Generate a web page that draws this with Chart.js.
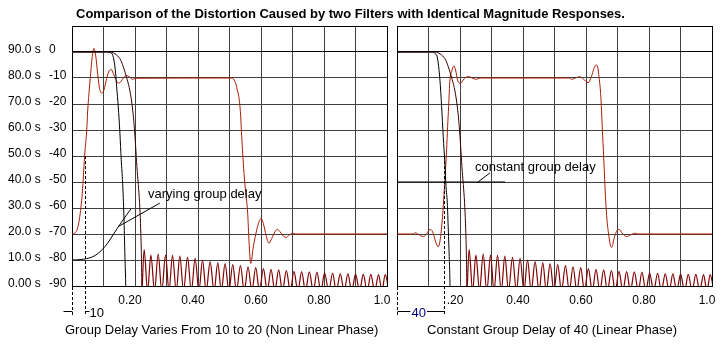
<!DOCTYPE html>
<html>
<head>
<meta charset="utf-8">
<title>Group delay distortion</title>
<script src="https://cdn.jsdelivr.net/npm/chart.js@4.4.1/dist/chart.umd.min.js"></script>
<style>
  body { margin: 0; background: #fff; }
  #wrap { position: relative; width: 727px; height: 345px; background: #fff; font-family: "Liberation Sans", Arial, sans-serif; color: #000; }
  #wrap canvas { position: absolute; top: 0; }
  #leftChart { left: 0; }
  #rightChart { left: 393px; }
  .txt { position: absolute; white-space: nowrap; font-size: 13px; line-height: 15px; }
  #title { left: 76px; top: 6px; font-weight: bold; }
  #capLeft { left: 65px; top: 322px; }
  #capRight { left: 427px; top: 322px; }
</style>
</head>
<body>
<div id="wrap">
  <canvas id="leftChart" width="393" height="345"></canvas>
  <canvas id="rightChart" width="325" height="345"></canvas>
  <div class="txt" id="title">Comparison of the Distortion Caused by two Filters with Identical Magnitude Responses.</div>
  <div class="txt" id="capLeft">Group Delay Varies From 10 to 20 (Non Linear Phase)</div>
  <div class="txt" id="capRight">Constant Group Delay of 40 (Linear Phase)</div>
</div>
<script>
// tick labels
const xTickLabels = ["", "", "0.20", "", "0.40", "", "0.60", "", "0.80", "", "1.0"];
const xTickLabelsRight = ["", "", ".20", "", "0.40", "", "0.60", "", "0.80", "", "1.0"];
const delayTickLabels = ["0.00 s", "10.0 s", "20.0 s", "30.0 s", "40.0 s", "50.0 s", "60.0 s", "70.0 s", "80.0 s", "90.0 s", ""];

// magnitude response (dB), same for both filters: passband and transition band
const magX = [0, 0.12, 0.142, 0.155, 0.165, 0.175, 0.184, 0.1924, 0.1975, 0.2019, 0.206, 0.2105, 0.2145, 0.2175, 0.2197, 0.221, 0.2225];
const magDb = [0, 0, -1.2, -3.2, -6.5, -10.5, -15, -22, -28.5, -36, -44, -51, -58, -66, -75, -83, -100];

// stopband sidelobes: nulls dip just under the -90 dB floor
const lobeNullX = [0.2225, 0.240, 0.262, 0.285, 0.308, 0.331, 0.354, 0.379, 0.403, 0.426, 0.451, 0.474, 0.498, 0.522, 0.547, 0.571, 0.595,
  0.620, 0.644, 0.668, 0.693, 0.717, 0.741, 0.766, 0.790, 0.815, 0.839, 0.864, 0.888, 0.913, 0.937, 0.961, 0.984, 1.006];
const lobePeakX = [0.229, 0.2504, 0.2736, 0.297, 0.319, 0.3423, 0.3667, 0.3908, 0.4143, 0.4384, 0.4628, 0.486, 0.5103, 0.5347, 0.5588, 0.5832,
  0.6075, 0.6318, 0.6561, 0.6805, 0.7046, 0.729, 0.7534, 0.7775, 0.8019, 0.8273, 0.8517, 0.8758, 0.9002, 0.9246, 0.9487, 0.9731, 0.9943];
const lobePeakDb = [-76, -78.1, -77.7, -78.1, -78.2, -78.5, -79, -79.4, -80, -80.6, -81, -81.4, -81.8, -82.2, -82.6, -82.9,
  -83.3, -83.6, -83.8, -84.1, -84.4, -84.5, -84.6, -84.7, -85, -85.1, -85.3, -85.3, -85.4, -85.5, -85.5, -85.6, -85.6];
const lobeNullDb = -92;

// black response curves
const blackLeftX = [0, 0.11, 0.1258, 0.1331, 0.1385, 0.1417, 0.1468, 0.1521, 0.1563, 0.1607, 0.1648, 0.168, 0.1702, 0.1725];
const blackLeftDb = [0, 0, -0.5, -3.1, -8.2, -13.3, -21, -31.2, -41.5, -50.4, -63.1, -78.5, -87.4, -100];
const blackRightX = [0, 0.105, 0.1258, 0.1309, 0.1363, 0.1417, 0.1468, 0.1521, 0.1556, 0.1597, 0.1629, 0.1658, 0.168, 0.1695];
const blackRightDb = [0, 0, -1.2, -4.3, -10.8, -21, -32.6, -42.8, -51.8, -58, -68.5, -78.7, -87.7, -100];

// pulse responses (dB scale), non linear phase
const stepLeftX = [0, 0.0095, 0.0168, 0.0231, 0.0285, 0.0326, 0.0412, 0.0466, 0.0498, 0.0539, 0.0593, 0.0643, 0.0697, 0.0751, 0.0802,
  0.0865, 0.0941, 0.1014, 0.11, 0.118, 0.1246, 0.131, 0.1385, 0.1467, 0.1553, 0.1648, 0.1734, 0.1838, 0.1924, 0.2029,
  0.508, 0.5175, 0.5248, 0.5311, 0.5356, 0.5387, 0.5419, 0.546, 0.5505, 0.5577, 0.562, 0.5673, 0.5757, 0.5863, 0.5937, 0.6,
  0.6073, 0.6159, 0.6254, 0.634, 0.6444, 0.6518, 0.6603, 0.6709, 0.6794, 0.69, 0.7006, 0.708, 1.0];
const stepLeftDb = [-70, -69.6, -68.1, -64.6, -59.5, -54.4, -38.1, -30.4, -22.7, -15.9, -8.2, -1.8, 1.4, -1.2, -6.9,
  -13.3, -15.9, -14.6, -10.1, -7.2, -6.7, -8.2, -10.5, -12, -11.4, -9.7, -9.1, -9.7, -10.5, -10.1,
  -10, -11.4, -14.6, -18.5, -24.9, -32.6, -39, -46.7, -53, -62, -73, -81.3, -74.9, -68.5, -65.3, -64,
  -65.9, -70.4, -73.6, -71.7, -69.1, -68.2, -69.1, -70.8, -71.3, -70.4, -69.7, -70, -70];

// pulse responses (dB scale), linear phase
const stepRightX = [0, 0.054, 0.057, 0.0676, 0.0834, 0.0941, 0.1046, 0.113, 0.1226, 0.1309, 0.1385, 0.1436, 0.1468, 0.15, 0.1521,
  0.1575, 0.1607, 0.1639, 0.168, 0.1733, 0.1807, 0.186, 0.1923, 0.2019, 0.2101, 0.2187, 0.2282, 0.24, 0.2526, 0.2609, 0.27,
  0.5483, 0.5537, 0.5646, 0.58, 0.5927, 0.6063, 0.6171, 0.6254, 0.6329, 0.638, 0.6412, 0.6456, 0.6488, 0.652, 0.6561, 0.6593,
  0.6624, 0.6666, 0.6729, 0.6773, 0.6825, 0.6878, 0.6964, 0.7046, 0.7154, 0.728, 0.7407, 0.7544, 0.765, 1.0];
const stepRightDb = [-70, -70, -69.5, -70.1, -71, -70, -68.2, -69.1, -73, -74.9, -71, -64.6, -59.5, -53.1, -49.2,
  -37.7, -28.7, -21, -10.8, -7.6, -5.4, -6.9, -10.8, -12.1, -10.8, -9.7, -9.5, -10.1, -10.5, -10.1, -10,
  -10, -10.5, -10.1, -9.5, -10.5, -11.8, -9.5, -6.3, -5, -6.3, -9.5, -14.6, -21, -30, -40.3, -49.2,
  -56.9, -64.6, -71, -74.2, -75.1, -72.3, -69.1, -68.2, -69.7, -71, -70.4, -69.7, -70, -70];

// group delay (seconds)
const delayLeftX = [0, 0.037, 0.07, 0.089, 0.105, 0.12, 0.132, 0.144, 0.158, 0.173, 0.187];
const delayLeftS = [10, 10.3, 11.5, 13.2, 15.2, 17.7, 20, 22.2, 24.7, 27.3, 29.6];
const delayRightX = [0, 0.343];
const delayRightS = [40, 40];

// pointer lines from the notes to the delay curves
const leaderLeftX = [0.146, 0.279];
const leaderLeftS = [22.8, 31.9];
const leaderRightX = [0.257, 0.295];
const leaderRightS = [40, 43.5];

const FONT = '"Liberation Sans", Arial, sans-serif';
const GRID = "#404040";

function pts(xs, ys) {
  return xs.map((x, i) => ({ x: x, y: ys[i] }));
}

function lobePoints() {
  const out = [];
  lobePeakX.forEach((x, i) => {
    out.push({ x: lobeNullX[i], y: lobeNullDb });
    out.push({ x: x, y: lobePeakDb[i] });
  });
  out.push({ x: lobeNullX[lobeNullX.length - 1], y: lobeNullDb });
  return out;
}

function curve(data, color, width, axis) {
  return {
    data: data,
    borderColor: color,
    borderWidth: width,
    pointRadius: 0,
    cubicInterpolationMode: "monotone",
    yAxisID: axis || "y",
    clip: 0,
  };
}

function straight(data, color) {
  return {
    data: data,
    borderColor: color,
    borderWidth: 1,
    pointRadius: 0,
    tension: 0,
    yAxisID: "s",
    clip: 0,
  };
}

// same rounding chart.js uses for 1px grid lines
const crisp = (p) => Math.round(p - 0.5) + 0.5;

// top row of the frame: border at +10 dB and grid segments down to 0 dB
const frameTop = {
  id: "frameTop",
  afterDraw(chart) {
    const { ctx, chartArea, scales } = chart;
    const yTop = crisp(scales.y.getPixelForValue(10));
    const y0 = crisp(scales.y.getPixelForValue(0));
    const last = scales.x.ticks.length - 1;
    ctx.save();
    ctx.lineWidth = 1;
    scales.x.ticks.forEach((t, i) => {
      const x = crisp(scales.x.getPixelForValue(t.value));
      ctx.strokeStyle = i === 0 || i === last ? "#000" : GRID;
      ctx.beginPath();
      ctx.moveTo(x, yTop);
      ctx.lineTo(x, y0);
      ctx.stroke();
    });
    ctx.strokeStyle = "#000";
    ctx.beginPath();
    ctx.moveTo(crisp(chartArea.left), yTop);
    ctx.lineTo(crisp(chartArea.right) + 0.5, yTop);
    ctx.moveTo(crisp(chartArea.left), y0);
    ctx.lineTo(crisp(chartArea.right) + 0.5, y0);
    ctx.stroke();
    ctx.restore();
  },
};

// dashed delay marker, dimension mark and the curve note
function notesPlugin(cfg) {
  return {
    id: "panelNotes",
    afterDatasetsDraw(chart) {
      const { ctx, chartArea, scales } = chart;
      const x0 = crisp(chartArea.left);
      const xm = crisp(scales.x.getPixelForValue(cfg.markX));
      const yTop = scales.y.getPixelForValue(-40);
      const yEnd = chartArea.bottom + 30;
      const yDim = Math.round(chartArea.bottom + 25) + 0.5;
      ctx.save();
      ctx.strokeStyle = "#000";
      ctx.lineWidth = 1;
      ctx.setLineDash([3, 2]);
      ctx.beginPath();
      ctx.moveTo(x0, chartArea.bottom + 1);
      ctx.lineTo(x0, yEnd);
      ctx.moveTo(xm, yTop);
      ctx.lineTo(xm, yEnd);
      ctx.stroke();
      ctx.setLineDash([]);

      ctx.font = "13px " + FONT;
      ctx.textBaseline = "alphabetic";
      ctx.textAlign = "left";
      ctx.fillStyle = cfg.markColor;
      const tw = ctx.measureText(cfg.markText).width;
      ctx.beginPath();
      if (cfg.outside) {
        ctx.moveTo(x0 - 9, yDim);
        ctx.lineTo(x0, yDim);
        ctx.moveTo(xm, yDim);
        ctx.lineTo(xm + 4, yDim);
        ctx.stroke();
        ctx.fillText(cfg.markText, xm + 4, yDim + 5);
      } else {
        const tx = x0 + 14;
        ctx.moveTo(x0, yDim);
        ctx.lineTo(tx - 1, yDim);
        ctx.moveTo(tx + tw + 1, yDim);
        ctx.lineTo(xm, yDim);
        ctx.stroke();
        ctx.fillText(cfg.markText, tx, yDim + 5);
      }

      ctx.fillStyle = "#000";
      ctx.fillText(cfg.note, scales.x.getPixelForValue(cfg.noteX), scales.s.getPixelForValue(cfg.noteS));
      ctx.restore();
    },
  };
}

function panelOptions(withLabels, xLabels, padLeft) {
  const yGridColor = (c) => (c.tick && [10, 0, -90].includes(c.tick.value) ? "#000" : GRID);
  return {
    responsive: false,
    animation: false,
    layout: { padding: { left: padLeft, top: 26, right: 6, bottom: 0 } },
    plugins: { legend: { display: false }, tooltip: { enabled: false } },
    scales: {
      x: {
        type: "linear",
        min: 0,
        max: 1,
        ticks: {
          stepSize: 0.1,
          autoSkip: false,
          maxRotation: 0,
          padding: 7,
          labelOffset: -5,
          color: "#000",
          font: { family: FONT, size: 12 },
          callback: (v, i) => xLabels[i],
        },
        grid: { color: (c) => (c.index === 0 || c.index === 10 ? "#000" : GRID), drawTicks: false, lineWidth: 1 },
        border: { color: "#000" },
        afterFit: (s) => {
          s.height = 59;
          s.paddingLeft = 0;
          s.paddingRight = 0;
        },
      },
      y: {
        position: "left",
        weight: 0,
        min: -90,
        max: 10,
        ticks: {
          display: withLabels,
          stepSize: 10,
          crossAlign: "far",
          padding: 0,
          labelOffset: -2,
          color: "#000",
          font: { family: FONT, size: 12 },
          callback: (v) => (v === 10 ? "" : String(v)),
        },
        grid: { color: yGridColor, drawTicks: false, lineWidth: 1 },
        border: { color: "#000" },
        afterFit: (s) => {
          s.width = withLabels ? 23 : 0;
          s.paddingTop = 0;
          s.paddingBottom = 0;
        },
      },
      s: {
        display: withLabels,
        position: "left",
        weight: 1,
        min: 0,
        max: 100,
        ticks: {
          stepSize: 10,
          crossAlign: "far",
          padding: 0,
          labelOffset: -2,
          color: "#000",
          font: { family: FONT, size: 12 },
          callback: (v, i) => delayTickLabels[i],
        },
        grid: { display: false, drawTicks: false },
        border: { display: false },
        afterFit: (s) => {
          s.width = withLabels ? 41 : 0;
          s.paddingTop = 0;
          s.paddingBottom = 0;
        },
      },
    },
  };
}

new Chart(document.getElementById("leftChart"), {
  type: "line",
  data: {
    datasets: [
      curve(lobePoints(), "#800000", 1.2),
      curve(pts(magX, magDb), "#3a0000", 1),
      curve(pts(blackLeftX, blackLeftDb), "#000", 1),
      curve(pts(stepLeftX, stepLeftDb), "#a81c00", 1),
      curve(pts(delayLeftX, delayLeftS), "#000", 1, "s"),
      straight(pts(leaderLeftX, leaderLeftS), "#000"),
    ],
  },
  options: panelOptions(true, xTickLabels, 8),
  plugins: [frameTop, notesPlugin({
    markX: 0.0434, markText: "10", markColor: "#000", outside: true,
    note: "varying group delay", noteX: 0.2413, noteS: 33.9,
  })],
});

new Chart(document.getElementById("rightChart"), {
  type: "line",
  data: {
    datasets: [
      curve(lobePoints(), "#800000", 1.2),
      curve(pts(magX, magDb), "#3a0000", 1),
      curve(pts(blackRightX, blackRightDb), "#000", 1),
      curve(pts(stepRightX, stepRightDb), "#a81c00", 1),
      straight(pts(delayRightX, delayRightS), "#000"),
      straight(pts(leaderRightX, leaderRightS), "#000"),
    ],
  },
  options: panelOptions(false, xTickLabelsRight, 4),
  plugins: [frameTop, notesPlugin({
    markX: 0.152, markText: "40", markColor: "#000080", outside: false,
    note: "constant group delay", noteX: 0.2476, noteS: 44.2,
  })],
});
</script>
</body>
</html>
